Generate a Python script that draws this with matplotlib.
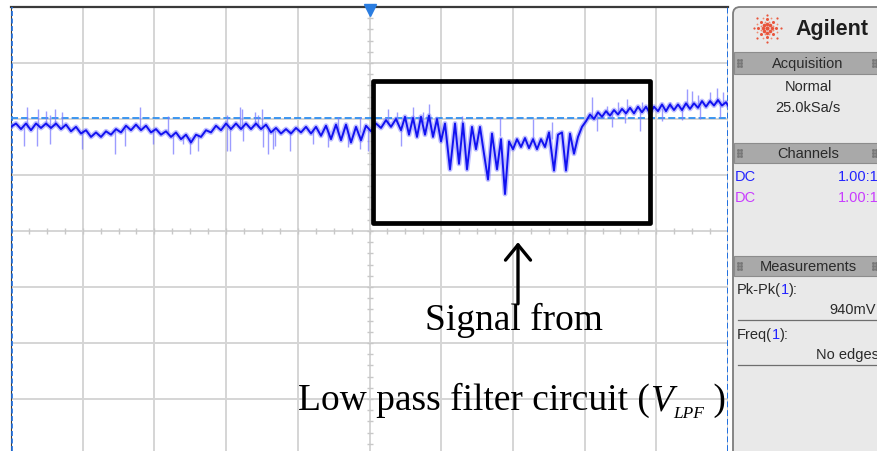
import numpy as np
import matplotlib.pyplot as plt
import matplotlib.font_manager as fm
from matplotlib.patches import Rectangle, FancyBboxPatch

plt.rcParams['mathtext.fontset'] = 'stix'

# scope screen: 717 record points over 10 divisions, 0.5 V/div
N_POINTS = 717
V_PER_DIV = 0.5
TRIG_LEVEL = 1.01

# channel 1 trace (turning points), record index / volts
trace_t = [0, 5, 10, 15, 20, 25, 30, 35, 40, 45, 50, 55, 60, 65, 70, 75, 80, 85, 90, 95,
           100, 105, 110, 115, 120, 125, 130, 135, 140, 145, 150, 155, 160, 165, 170, 175,
           180, 185, 190, 195, 200, 205, 210, 215, 220, 225, 230, 235, 240, 245, 250, 255,
           260, 265, 270, 275, 280, 285, 290, 295, 300, 305, 310, 315, 320, 325, 330, 335,
           340, 345, 350, 355, 360, 365, 370, 375, 380, 385, 390, 394, 398, 402, 406, 410,
           414, 418, 422, 426, 430, 434, 439, 444, 448, 452, 456, 461, 465, 469, 473, 477,
           481, 486, 490, 494, 498, 502, 506, 510, 514, 518, 522, 526, 530, 534, 538, 543,
           547, 551, 555, 559, 563, 567, 571, 575, 579, 583, 587, 591, 595, 599, 603, 607,
           611, 615, 619, 623, 627, 631, 635, 639, 643, 647, 651, 655, 659, 663, 667, 671,
           675, 679, 683, 687, 691, 695, 699, 703, 707, 711, 715, 717]
trace_v = [0.93, 0.96, 0.91, 0.96, 0.90, 0.96, 0.92, 0.96, 0.92, 0.96, 0.91, 0.95, 0.89, 0.93,
           0.87, 0.90, 0.84, 0.88, 0.84, 0.89, 0.86, 0.91, 0.88, 0.94, 0.90, 0.95, 0.90, 0.94,
           0.88, 0.91, 0.86, 0.89, 0.84, 0.88, 0.82, 0.86, 0.79, 0.86, 0.84, 0.90, 0.88, 0.94,
           0.90, 0.96, 0.91, 0.96, 0.91, 0.96, 0.91, 0.96, 0.91, 0.95, 0.88, 0.92, 0.87, 0.91,
           0.87, 0.92, 0.88, 0.93, 0.87, 0.93, 0.85, 0.94, 0.82, 0.95, 0.81, 0.95, 0.79, 0.93,
           0.81, 0.94, 0.89, 0.96, 0.92, 0.99, 0.93, 1.00, 0.90, 1.02, 0.86, 1.01, 0.84, 1.02,
           0.86, 1.03, 0.84, 1.00, 0.80, 0.96, 0.55, 0.96, 0.60, 0.96, 0.55, 0.93, 0.73, 0.93,
           0.69, 0.46, 0.87, 0.55, 0.82, 0.33, 0.80, 0.73, 0.82, 0.75, 0.83, 0.74, 0.82, 0.73,
           0.82, 0.75, 0.88, 0.54, 0.86, 0.88, 0.54, 0.87, 0.69, 0.84, 0.93, 0.98, 1.04, 1.00,
           1.06, 1.02, 1.07, 1.03, 1.08, 1.04, 1.09, 1.05, 1.10, 1.05, 1.11, 1.06, 1.11, 1.05,
           1.11, 1.07, 1.13, 1.07, 1.13, 1.08, 1.13, 1.08, 1.14, 1.09, 1.14, 1.10, 1.16, 1.11,
           1.16, 1.12, 1.17, 1.12, 1.15, 1.12]

# single-sample glitches on the raw trace
spike_t = [16, 27, 35, 39, 44, 51, 129, 157, 216, 229, 231, 244, 247, 251, 327, 349, 377,
           386, 402, 412, 418, 451, 489, 522, 541, 581, 596, 607, 616, 631, 659, 676, 681,
           687, 699, 706, 712,
           13, 26, 39, 71, 104, 114, 142, 162, 172, 179, 187, 216, 219, 232, 252, 257, 262,
           264, 279, 302, 317, 337, 349, 357, 390, 586, 601, 614, 629, 651, 671, 689, 709]
spike_base = [0.93, 0.93, 0.94, 0.93, 0.94, 0.92, 0.91, 0.88, 0.94, 0.92, 0.92, 0.94, 0.93,
              0.92, 0.90, 0.88, 0.96, 0.97, 0.98, 0.96, 0.98, 0.90, 0.85, 0.80, 0.82, 1.02,
              1.04, 1.05, 1.06, 1.08, 1.10, 1.12, 1.12, 1.12, 1.14, 1.14, 1.14,
              0.93, 0.93, 0.93, 0.90, 0.90, 0.92, 0.90, 0.86, 0.85, 0.84, 0.85, 0.93, 0.93,
              0.93, 0.92, 0.90, 0.90, 0.90, 0.90, 0.90, 0.88, 0.86, 0.86, 0.90, 0.90, 1.04,
              1.05, 1.07, 1.08, 1.10, 1.10, 1.12, 1.13]
spike_tip = [1.11, 1.09, 1.07, 1.04, 1.09, 1.06, 1.11, 1.03, 1.04, 1.11, 1.09, 1.06, 1.04,
             1.09, 1.02, 1.02, 1.09, 1.06, 1.11, 1.06, 1.13, 1.03, 1.02, 1.00, 0.97, 1.20,
             1.12, 1.15, 1.18, 1.15, 1.15, 1.27, 1.25, 1.21, 1.24, 1.28, 1.24,
             0.76, 0.76, 0.78, 0.73, 0.69, 0.76, 0.78, 0.69, 0.78, 0.69, 0.71, 0.71, 0.71,
             0.80, 0.75, 0.69, 0.73, 0.76, 0.71, 0.78, 0.75, 0.75, 0.73, 0.71, 0.76, 0.89,
             0.93, 0.96, 0.89, 0.98, 0.99, 1.00, 1.02]

# highlighted window and annotation
box_t = (362, 639)
box_v = (0.07, 1.34)
arrow_t = 507
arrow_v = (-0.65, -0.10)

# side panel strings
acq_mode = "Normal"
acq_rate = "25.0kSa/s"
ch_coupling = ["DC", "DC"]
ch_probe = ["1.00:1", "1.00:1"]
ch_colors = ["#2323ff", "#c83cff"]
meas_pkpk = "940mV"
meas_freq = "No edges"

fig = plt.figure(figsize=(8.77, 4.52), dpi=100)


def text_run(a, x, y, parts, **common):
    """Draw text pieces one after another on a shared baseline."""
    renderer = fig.canvas.get_renderer()
    for s, opts in parts:
        t = a.text(x, y + opts.pop("dy", 0), s, ha="left", **common, **opts)
        bb = t.get_window_extent(renderer)
        x = a.transData.inverted().transform((bb.x1, bb.y0))[0]


# ---- scope screen ----
ax = fig.add_axes([11 / 877, 0, 717 / 877, 444 / 452])
ax.set_xlim(0, N_POINTS)
ax.set_ylim((232 - 452) / 112, 4 * V_PER_DIV)
ax.set_xticks(np.linspace(0, N_POINTS, 11))
ax.set_yticks(np.arange(-3, 5) * V_PER_DIV)
ax.tick_params(length=0, labelbottom=False, labelleft=False)
ax.grid(True, color="#d5d5d5", lw=1.4)
ax.set_axisbelow(True)
for s in ["right", "bottom"]:
    ax.spines[s].set_visible(False)
ax.spines["top"].set_color("#3a3a3a")
ax.spines["top"].set_linewidth(1.6)
ax.spines["left"].set_color("#3a3a3a")
ax.spines["left"].set_linewidth(0.8)

# minor ticks on the centre cross
cx = N_POINTS / 2
xt = np.arange(0, N_POINTS + 1, N_POINTS / 40)
ax.vlines(xt, -0.027, 0.027, color="#c8c8c8", lw=1.0, zorder=1)
yt = np.arange(-4, 4.01, 0.2) * V_PER_DIV
ax.hlines(yt, cx - 3, cx + 3, color="#c8c8c8", lw=1.0, zorder=1)

# screen edges (blue dashed) and trigger level
ax.axvline(0.8, color="#1f6fe0", lw=1.2, ls=(0, (3, 1.5)), zorder=3)
ax.axvline(N_POINTS - 0.5, color="#1f6fe0", lw=1.4, ls=(0, (3, 1.5)), zorder=3)
ax.axhline(TRIG_LEVEL, color="#2e8ff0", lw=1.3, ls=(0, (3.9, 1.7)), zorder=3)

# trace
ax.vlines(spike_t, spike_base, spike_tip, color="#7b7bff", lw=1.0, alpha=0.75, zorder=4)
ax.plot(trace_t, trace_v, color="#8080ff", lw=3.6, alpha=0.5, zorder=4)
ax.plot(trace_t, trace_v, color="#1212f0", lw=1.4, zorder=5)

# trigger position marker
ax.plot([cx], [4 * V_PER_DIV - 0.03], marker="v", ms=8, color="#2a7de1",
        clip_on=False, zorder=6)

# highlight box
ax.add_patch(Rectangle((box_t[0], box_v[0]), box_t[1] - box_t[0], box_v[1] - box_v[0],
                       fill=False, ec="black", lw=3.4, joinstyle="round", zorder=7))

ax.annotate("", xy=(arrow_t, arrow_v[1]), xytext=(arrow_t, arrow_v[0]),
            arrowprops=dict(arrowstyle="->,head_length=0.55,head_width=0.45",
                            lw=2.4, color="black", mutation_scale=20,
                            shrinkA=0, shrinkB=0), zorder=8)

serif = "Liberation Serif"
big = 27.0
ax.text(503, -0.875, "Signal from", ha="center", va="baseline",
        family=serif, fontsize=big, zorder=9)
text_run(ax, 287, -1.59,
         [("Low pass filter circuit (", dict(family=serif, fontsize=big)),
          ("V", dict(family=serif, style="italic", fontsize=big)),
          ("LPF", dict(family=serif, style="italic", fontsize=12.5, dy=-0.07)),
          (" )", dict(family=serif, fontsize=big))],
         va="baseline", zorder=9)

# ---- side panel ----
names = {f.name for f in fm.fontManager.ttflist}
if "Liberation Sans Narrow" in names:
    pf, ps = "Liberation Sans Narrow", 12.5
else:
    pf, ps = "Liberation Sans", 10.5

axp = fig.add_axes([731 / 877, 0, 146 / 877, 1])
axp.set_xlim(0, 146)
axp.set_ylim(452, 0)
axp.axis("off")

axp.add_patch(FancyBboxPatch((2, 8), 170, 470, boxstyle="round,pad=0,rounding_size=7",
                             fc="#e9e9e9", ec="#7d7d7d", lw=1.3))
for y0, h in [(53, 22), (144, 20), (257, 20)]:
    axp.add_patch(Rectangle((2.6, y0), 160, h, fc="#a9a9a9", ec="#8c8c8c", lw=0.8))
    for gx in (7, 10, 142, 145):
        axp.plot([gx] * 3, [y0 + h / 2 - 3, y0 + h / 2, y0 + h / 2 + 3], ls="none",
                 marker="s", ms=1.0, color="#777777")

# Agilent spark logo
lx, ly = 36, 29
axp.plot(lx, ly, "o", ms=3.0, color="#e8553c", mew=0)
for k in range(8):
    a = np.pi / 4 * k
    for r, s in [(4.5, 2.6), (9, 2.2), (13.5, 1.6)]:
        axp.plot(lx + r * np.cos(a), ly + r * np.sin(a), "o", ms=s, color="#e8553c", mew=0)
for k in range(8):
    a = np.pi / 4 * k + np.pi / 8
    for r in (6.5, 11):
        axp.plot(lx + r * np.cos(a), ly + r * np.sin(a), "o", ms=1.3, color="#f08a70",
                 mew=0)
axp.text(64, 30, "Agilent", ha="left", va="center", family="Liberation Sans",
         weight="bold", fontsize=15.5, color="#1e1e1e")

kw = dict(family=pf, fontsize=ps, color="#2a2a2a")
axp.text(77, 64, "Acquisition", ha="center", va="center", **kw)
axp.text(77, 87, acq_mode, ha="center", va="center", **kw)
axp.text(77, 108, acq_rate, ha="center", va="center", **kw)
axp.text(77, 154, "Channels", ha="center", va="center", **kw)
for i, (cpl, prb, c) in enumerate(zip(ch_coupling, ch_probe, ch_colors)):
    y = 177 + 21 * i
    axp.text(4, y, cpl, ha="left", va="center", family=pf, fontsize=ps, color=c)
    axp.text(107, y, prb, ha="left", va="center", family=pf, fontsize=ps, color=c)
axp.text(77, 267, "Measurements", ha="center", va="center", **kw)

dark = dict(color="#2a2a2a")
blue = dict(color="#2323ff")
text_run(axp, 6, 290, [("Pk-Pk(", dict(dark)), ("1", dict(blue)), ("):", dict(dark))],
         va="center", family=pf, fontsize=ps)
axp.text(98, 310, meas_pkpk, ha="left", va="center", **kw)
axp.plot([7, 146], [321, 321], color="#6e6e6e", lw=0.9)
text_run(axp, 6, 335, [("Freq(", dict(dark)), ("1", dict(blue)), ("):", dict(dark))],
         va="center", family=pf, fontsize=ps)
axp.text(85, 355, meas_freq, ha="left", va="center", **kw)
axp.plot([7, 146], [366, 366], color="#6e6e6e", lw=0.9)

fig.savefig("out.png", dpi=100)
